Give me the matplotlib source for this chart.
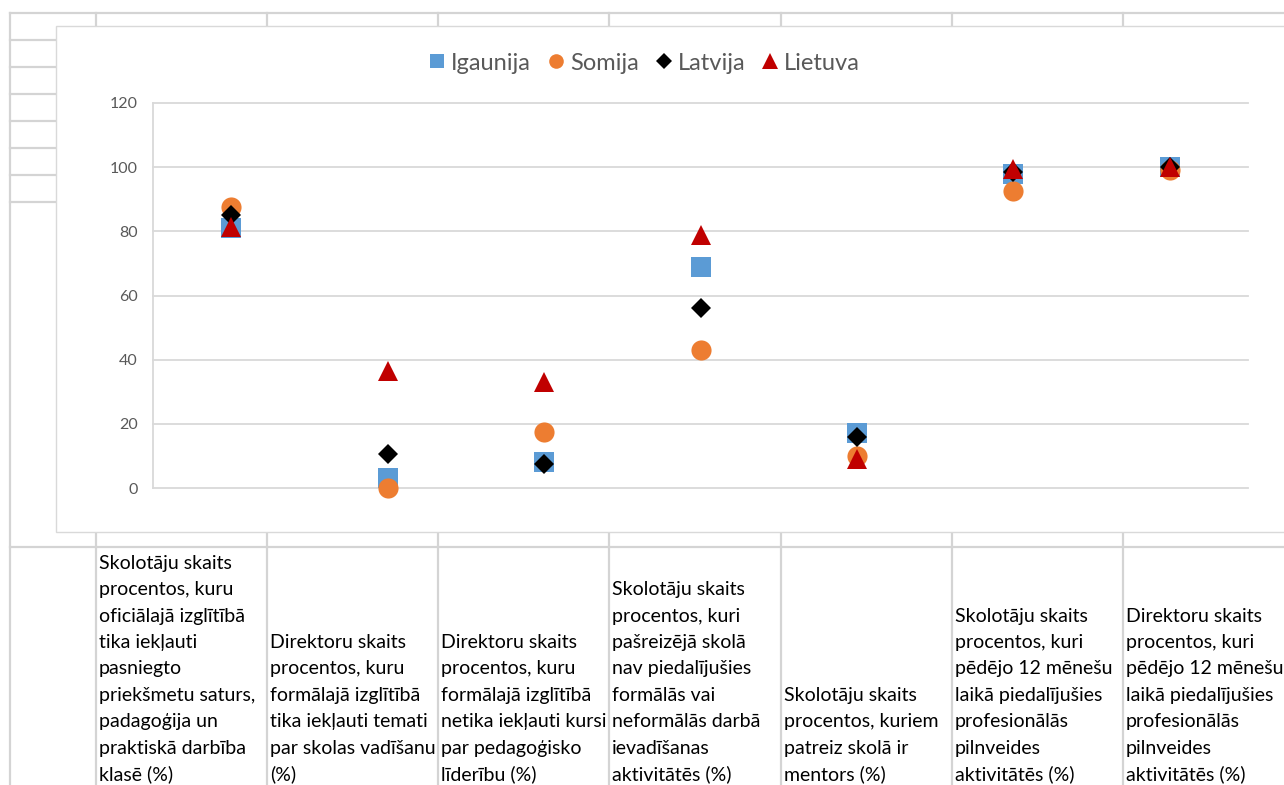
import matplotlib
matplotlib.use("Agg")
import matplotlib.pyplot as plt
from matplotlib.lines import Line2D
from matplotlib.patches import Rectangle

plt.rcParams['font.family'] = ['Lato', 'DejaVu Sans']

# data
countries = ['Igaunija', 'Somija', 'Latvija', 'Lietuva']
igaunija = [81, 3, 8, 69, 17, 98, 100]
somija = [87.5, 0, 17.5, 43, 10, 92.5, 99]
latvija = [85, 10.5, 7.5, 56, 16, 98.5, 100]
lietuva = [81.5, 36.5, 33, 79, 9, 99.5, 100]
yticks = [0, 20, 40, 60, 80, 100, 120]

categories = [
    "Skolotāju skaits\nprocentos, kuru\noficiālajā izglītībā\ntika iekļauti\npasniegto\npriekšmetu saturs,\npadagoģija un\npraktiskā darbība\nklasē (%)",
    "Direktoru skaits\nprocentos, kuru\nformālajā izglītībā\ntika iekļauti temati\npar skolas vadīšanu\n(%)",
    "Direktoru skaits\nprocentos, kuru\nformālajā izglītībā\nnetika iekļauti kursi\npar pedagoģisko\nlīderību (%)",
    "Skolotāju skaits\nprocentos, kuri\npašreizējā skolā\nnav piedalījušies\nformālās vai\nneformālās darbā\nievadīšanas\naktivitātēs (%)",
    "Skolotāju skaits\nprocentos, kuriem\npatreiz skolā ir\nmentors (%)",
    "Skolotāju skaits\nprocentos, kuri\npēdējo 12 mēnešu\nlaikā piedalījušies\nprofesionālās\npilnveides\naktivitātēs (%)",
    "Direktoru skaits\nprocentos, kuri\npēdējo 12 mēnešu\nlaikā piedalījušies\nprofesionālās\npilnveides\naktivitātēs (%)",
]

W, H = 1284, 785
fig = plt.figure(figsize=(W / 100, H / 100), dpi=100)


def fx(x):
    return x / W


def fy(y):
    return 1 - y / H


cell = '#D4D4D4'
cols = [96, 267, 438, 609, 781, 952, 1123]


def cell_line(xs, ys):
    fig.add_artist(Line2D([fx(v) for v in xs], [fy(v) for v in ys],
                          color=cell, lw=1.6, zorder=-2))


# spreadsheet grid behind the chart
cell_line([10, W], [13, 13])
cell_line([10, 10], [13, H])
for y in [40, 67, 94, 121, 148, 175, 202]:
    cell_line([10, 56], [y, y])
for x in cols:
    cell_line([x, x], [13, 26])
    cell_line([x, x], [532, H])
cell_line([10, W], [546.5, 546.5])

# chart area
fig.add_artist(Rectangle((fx(56), fy(532)), fx(1300 - 56), fy(25.5) - fy(532),
                         facecolor='white', edgecolor='#D9D9D9', lw=1.0, zorder=-1))

ax = fig.add_axes([fx(153), fy(488), fx(1248 - 153), fy(103) - fy(488)])
ax.set_facecolor('none')
x = list(range(1, len(categories) + 1))

styles = [
    dict(marker='s', color='#5B9BD5', ms=14),
    dict(marker='o', color='#ED7D31', ms=14.5),
    dict(marker='D', color='black', ms=10.2),
    dict(marker='^', color='#C00000', ms=14.5),
]
for vals, st in zip([igaunija, somija, latvija, lietuva], styles):
    ax.plot(x, vals, linestyle='none', marker=st['marker'], color=st['color'],
            ms=st['ms'], mew=0, clip_on=False, zorder=3)

ax.set_xlim(0.5, len(categories) + 0.5)
ax.set_ylim(0, 120)
for t in yticks:
    ax.axhline(t, color='#D9D9D9', lw=1.3, clip_on=False, zorder=0)
ax.set_yticks(yticks)
ax.set_xticks([])
ax.tick_params(axis='y', length=0, pad=11, labelsize=11.5, labelcolor='#595959')
for s in ['top', 'right', 'bottom']:
    ax.spines[s].set_visible(False)
ax.spines['left'].set_color('#D9D9D9')
ax.spines['left'].set_linewidth(1.3)

handles = [
    Line2D([], [], linestyle='none', marker='s', color='#5B9BD5', ms=10, mew=0),
    Line2D([], [], linestyle='none', marker='o', color='#ED7D31', ms=10.5, mew=0),
    Line2D([], [], linestyle='none', marker='D', color='black', ms=8, mew=0),
    Line2D([], [], linestyle='none', marker='^', color='#C00000', ms=11.5, mew=0),
]
fig.legend(handles, countries, loc='center', bbox_to_anchor=(fx(645), fy(63)),
           ncol=4, frameon=False, fontsize=17, labelcolor='#595959',
           handlelength=0.6, handletextpad=0.3, columnspacing=0.75)

# category labels in the cells below the chart
step = 26.4
for cx, label in zip(cols, categories):
    lines = label.split('\n')
    n = len(lines)
    for k, line in enumerate(lines):
        yb = 780 - (n - 1 - k) * step
        fig.text(fx(cx + 3), fy(yb), line, fontsize=14, color='black',
                 ha='left', va='baseline')

fig.savefig('out.png', dpi=100, facecolor='white')
